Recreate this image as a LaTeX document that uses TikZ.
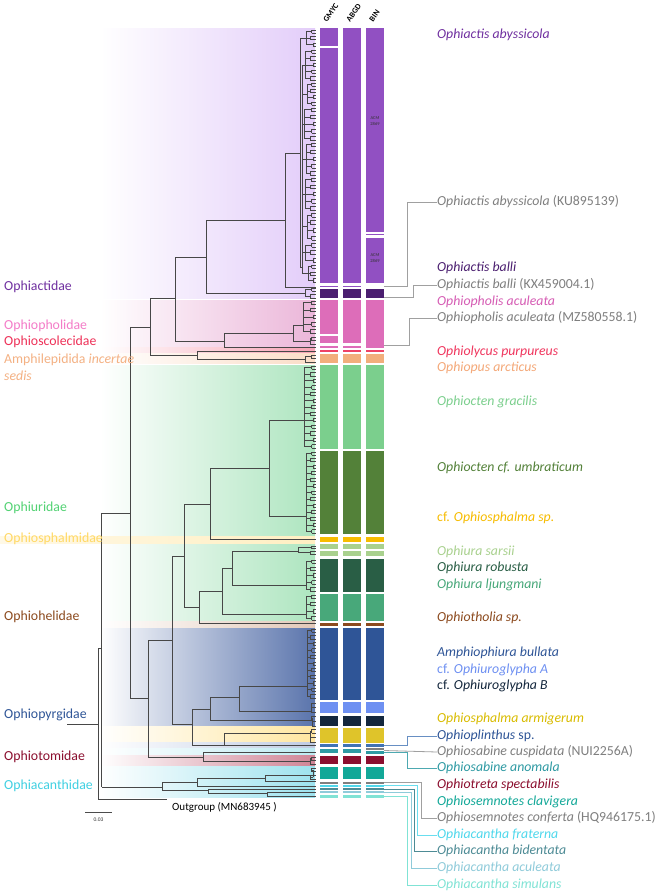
\documentclass[tikz,border=0pt]{standalone}
\usepackage{fontspec}
\setmainfont{Carlito}
\usetikzlibrary{calc}
% bar colours
\definecolor{purp}{HTML}{9150C2}
\definecolor{dpurp}{HTML}{4B1F70}
\definecolor{pinkb}{HTML}{DD6DB9}
\definecolor{redb}{HTML}{EE4266}
\definecolor{orangeb}{HTML}{F2AE7C}
\definecolor{lgreen}{HTML}{7BCF8D}
\definecolor{olive}{HTML}{538139}
\definecolor{gold}{HTML}{F7BC00}
\definecolor{pgreen}{HTML}{A9D18E}
\definecolor{dgreen}{HTML}{295E45}
\definecolor{mgreen}{HTML}{48A87A}
\definecolor{brownb}{HTML}{8C4A1E}
\definecolor{blueb}{HTML}{2F5597}
\definecolor{lblue}{HTML}{6E90F2}
\definecolor{navy}{HTML}{14273D}
\definecolor{yellowb}{HTML}{DFC42A}
\definecolor{sblue}{HTML}{4173B4}
\definecolor{tealb}{HTML}{2E9AA3}
\definecolor{crimson}{HTML}{8B0E2E}
\definecolor{tgreen}{HTML}{12A898}
\definecolor{grayb}{HTML}{7F7F7F}
\definecolor{cyanb}{HTML}{4FD8EC}
\definecolor{dteal}{HTML}{4D8B95}
\definecolor{lcyan}{HTML}{8FCBDA}
\definecolor{mint}{HTML}{80E3D5}
% label colours
\definecolor{labpurp}{HTML}{7030A0}
\definecolor{labpink}{HTML}{D65CB4}
\definecolor{labred}{HTML}{F0365E}
\definecolor{laborange}{HTML}{F4A878}
\definecolor{labyellow}{HTML}{D9BC00}
\definecolor{famPink}{HTML}{F47CC8}
\definecolor{famRed}{HTML}{EE3158}
\definecolor{famOrange}{HTML}{F4B183}
\definecolor{famGreen}{HTML}{52D273}
\definecolor{famYellow}{HTML}{FFD966}
\definecolor{famCyan}{HTML}{3FD0E2}
% background colours
\definecolor{bgPurp}{HTML}{E3CDF9}
\definecolor{bgPink}{HTML}{EBB6D9}
\definecolor{bgRed}{HTML}{F7A3B5}
\definecolor{bgOrange}{HTML}{FBDDC7}
\definecolor{bgGreen}{HTML}{ADE5BF}
\definecolor{bgYellow}{HTML}{FFEFC2}
\definecolor{bgBrown}{HTML}{E2C8B8}
\definecolor{bgBlue}{HTML}{5A74AC}
\definecolor{bgYellowB}{HTML}{FFE6A0}
\definecolor{bgBlueB}{HTML}{BFCBE3}
\definecolor{bgCyanB}{HTML}{BDEBF2}
\definecolor{bgCrimson}{HTML}{D08496}
\definecolor{bgCyan}{HTML}{9DE2EE}
\definecolor{treec}{HTML}{474747}
\definecolor{conG}{HTML}{A0A0A0}

\newcommand{\band}[3]{\shade[left color=white, right color=#1] (100,#2) rectangle (315,#3);}
\newcommand{\nd}[5]{\draw[tree] (#1,#2) -- (#1,#3) (#1,#2) -- (#4,#2) (#1,#3) -- (#5,#3);}
\newcommand{\comb}[4]{%
  \pgfmathsetmacro{\cbS}{(#3-#2)/(#4-1)}%
  \pgfmathtruncatemacro{\cbN}{#4/2}%
  \pgfmathtruncatemacro{\cbO}{mod(#4,2)}%
  \pgfmathsetmacro{\cbT}{#2+\cbS/2}%
  \pgfmathsetmacro{\cbB}{\cbO==1 ? #3 : #3-\cbS/2}%
  \draw[tree] (#1,\cbT) -- (#1,\cbB);
  \foreach \j in {1,...,\cbN}{%
    \pgfmathsetmacro{\cbA}{#2+(2*\j-2)*\cbS}%
    \pgfmathsetmacro{\cbY}{\cbA+\cbS}%
    \pgfmathsetmacro{\cbM}{\cbA+\cbS/2}%
    \pgfmathsetmacro{\cbX}{313-mod(\j,3)*1.5}%
    \draw[tree] (#1,\cbM) -- (\cbX,\cbM) (\cbX,\cbA) -- (\cbX,\cbY) (\cbX,\cbA) -- (316,\cbA) (\cbX,\cbY) -- (316,\cbY);
  }%
  \ifnum\cbO=1 \draw[tree] (#1,#3) -- (316,#3);\fi
}
\newcommand{\bcell}[4]{\fill[#1] (#2,#3) rectangle ({#2+18},#4);}
\newcommand{\brow}[3]{\bcell{#1}{320}{#2}{#3}\bcell{#1}{343}{#2}{#3}\bcell{#1}{366}{#2}{#3}}

\begin{document}
\begin{tikzpicture}[x=1pt,y=-1pt,
  tree/.style={draw=treec, line width=0.6pt},
  con/.style={line width=0.8pt},
  sp/.style={anchor=west, inner sep=0pt, font=\fontsize{13.8}{15}\selectfont\itshape, text height=9.5pt, text depth=3pt},
  fam/.style={anchor=west, inner sep=0pt, font=\fontsize{13.8}{15}\selectfont, text height=9.5pt, text depth=3pt},
  hdr/.style={rotate=55, anchor=west, inner sep=0pt, font=\bfseries\fontsize{8}{9}\selectfont},
  acm/.style={align=center, inner sep=0pt, font=\fontsize{4.5}{5.2}\selectfont, text=black!80}]
\useasboundingbox (0,0) rectangle (660,895);
\fill[white] (0,0) rectangle (660,895);

% background bands
\band{bgPurp}{28}{298}
\band{bgPink}{300}{346.5}
\band{bgRed}{347.5}{352.5}
\band{bgOrange}{353}{363.5}
\band{bgGreen}{365}{535.5}
\shade[left color=bgYellow!40, right color=bgYellow] (0,536) rectangle (315,543);
\band{bgGreen}{544}{621}
\band{bgBrown}{621.5}{627}
\band{bgBlue}{628}{725.5}
\band{bgYellowB}{726.5}{742}
\band{bgBlueB}{742.5}{747}
\band{bgCyanB}{748}{754.5}
\band{bgCrimson}{755.5}{765}
\band{bgCyan}{766}{797}

% tree backbone
\draw[tree] (67,724) -- (98,724);
\nd{98}{648}{799}{101.5}{167}
\nd{101.5}{513}{787}{130}{162}
\nd{130}{327}{698}{150}{148}
\nd{150}{298}{355}{175}{197}
\nd{175}{257}{341}{206}{224}
\nd{206}{220}{293}{285}{305}
\nd{285}{153}{287}{300}{316}
\nd{300}{38}{267}{306}{302}
\nd{224}{333}{347}{293}{316}
\nd{293}{325}{341}{303}{310}
\nd{197}{351}{359}{316}{305}
\nd{148}{640}{757}{172}{203}
\nd{172}{556}{724}{184}{192}
\nd{184}{504}{607}{210}{199}
\nd{210}{468}{539}{269}{316}
\nd{269}{420}{516}{304}{306}
\nd{199}{591}{623}{222}{316}
\nd{222}{568}{614}{232}{306}
\nd{232}{551}{585}{298}{306}
\nd{192}{709}{745}{210}{224}
\nd{210}{697}{720}{239}{312}
\nd{239}{686}{711}{307}{311}
\nd{224}{733}{745}{310}{316}
\nd{203}{752}{761}{316}{310}
\nd{162}{782}{790}{197}{208}
\nd{197}{778}{786}{265}{316}
\nd{265}{775}{781}{313}{316}
\nd{208}{789}{793}{316}{267}
\nd{267}{792}{796}{316}{316}

% Ophiactidae sub-clusters
\comb{306}{30}{46}{6}
\draw[tree] (302,65) -- (302,273.5);
\draw[tree] (302,65) -- (305,65) (302,94) -- (307,94) (302,124) -- (304,124) (302,159) -- (306,159)
  (302,194) -- (305,194) (302,226.5) -- (307,226.5) (302,252.5) -- (305,252.5) (302,273.5) -- (308,273.5);
\comb{305}{50}{80}{10}
\comb{307}{83}{105}{8}
\comb{304}{108}{140}{10}
\comb{306}{143}{175}{10}
\comb{305}{178}{210}{10}
\comb{307}{213}{240}{8}
\comb{305}{243}{262}{6}
\comb{308}{265}{282}{6}
% other clusters
\comb{305}{288}{298}{4}
\comb{303}{301}{333}{10}
\comb{310}{337}{344}{3}
\comb{305}{355}{362}{3}
\comb{304}{366}{448}{26}
\comb{306}{452}{533}{26}
\comb{298}{546}{554}{4}
\comb{306}{560}{591}{10}
\comb{306}{595}{620}{8}
\comb{307}{629}{698}{22}
\comb{311}{703}{712}{3}
\comb{312}{716}{726}{3}
\comb{310}{729}{742}{4}
\comb{310}{757}{764}{3}
\comb{313}{768}{779}{4}

% delimitation bars
\bcell{purp}{320}{28}{45.5}\bcell{purp}{320}{48}{283}
\bcell{purp}{343}{28}{283}
\bcell{purp}{366}{28}{232.3}\bcell{purp}{366}{233.8}{235.3}\bcell{purp}{366}{237.7}{283}
\bcell{purp}{320}{285.5}{287.3}\bcell{purp}{343}{285.5}{287.3}
\brow{dpurp}{288.5}{298}
\bcell{pinkb}{320}{300}{334}\bcell{pinkb}{320}{336}{343}
\bcell{pinkb}{343}{300}{343}
\bcell{pinkb}{366}{300}{347.5}
\bcell{pinkb}{320}{345.5}{347.5}\bcell{pinkb}{343}{345.5}{347.5}
\brow{redb}{349.5}{351.8}
\brow{orangeb}{354}{363}
\brow{lgreen}{365}{448.5}
\brow{olive}{451}{534}
\brow{gold}{536.5}{542}
\brow{pgreen}{544}{549}
\brow{pgreen}{551}{556}
\brow{dgreen}{558.5}{592}
\brow{mgreen}{594}{621}
\brow{brownb}{623}{626}
\brow{blueb}{628}{699.5}
\brow{lblue}{701.5}{713}
\brow{navy}{715.5}{726}
\brow{yellowb}{728}{743}
\brow{sblue}{744.3}{746.7}
\bcell{tealb}{320}{748.5}{753.3}\bcell{tealb}{343}{748.5}{753.3}
\bcell{grayb}{366}{748.2}{750}\bcell{tealb}{366}{751.3}{754}
\brow{crimson}{756}{764.3}
\brow{tgreen}{766.7}{779}
\brow{grayb}{781.7}{783.7}
\brow{cyanb}{784.7}{786.7}
\brow{dteal}{787.8}{790}
\brow{lcyan}{791.3}{793.3}
\brow{mint}{795}{797.5}

% headers
\node[hdr] (hG) at (325,21) {GMYC};
\node[hdr] (hA) at (348,21) {ABGD};
\node[hdr] (hB) at (371,21) {BIN};
\node[acm] (acm1) at (375,121) {ACM\\2869};
\node[acm] (acm2) at (375,258) {ACM\\2869};

% species labels
\node[sp, text=labpurp] (s1) at (437,35) {Ophiactis abyssicola};
\node[sp, text=grayb] (s2) at (437,202) {Ophiactis abyssicola \textup{(KU895139)}};
\node[sp, text=dpurp] (s3) at (437,268) {Ophiactis balli};
\node[sp, text=grayb] (s4) at (437,285) {Ophiactis balli \textup{(KX459004.1)}};
\node[sp, text=labpink] (s5) at (437,302) {Ophiopholis aculeata};
\node[sp, text=grayb] (s6) at (437,318) {Ophiopholis aculeata \textup{(MZ580558.1)}};
\node[sp, text=labred] (s7) at (437,352) {Ophiolycus purpureus};
\node[sp, text=laborange] (s8) at (437,368) {Ophiopus arcticus};
\node[sp, text=lgreen] (s9) at (437,402) {Ophiocten gracilis};
\node[sp, text=olive] (s10) at (437,468) {Ophiocten cf. umbraticum};
\node[sp, text=gold] (s11) at (437,518) {\textup{cf.} Ophiosphalma sp.};
\node[sp, text=pgreen] (s12) at (437,552) {Ophiura sarsii};
\node[sp, text=dgreen] (s13) at (437,568) {Ophiura robusta};
\node[sp, text=mgreen] (s14) at (437,585) {Ophiura ljungmani};
\node[sp, text=brownb] (s15) at (437,618) {Ophiotholia sp.};
\node[sp, text=blueb] (s16) at (437,653) {Amphiophiura bullata};
\node[sp, text=lblue] (s17) at (437,670) {\textup{cf.} Ophiuroglypha A};
\node[sp, text=navy] (s18) at (437,686) {\textup{cf.} Ophiuroglypha B};
\node[sp, text=labyellow] (s19) at (437,719) {Ophiosphalma armigerum};
\node[sp, text=blueb] (s20) at (437,736) {Ophioplinthus \textup{sp.}};
\node[sp, text=grayb] (s21) at (437,752) {Ophiosabine cuspidata \textup{(NUI2256A)}};
\node[sp, text=tealb] (s22) at (437,768) {Ophiosabine anomala};
\node[sp, text=crimson] (s23) at (437,785) {Ophiotreta spectabilis};
\node[sp, text=tgreen] (s24) at (437,802) {Ophiosemnotes clavigera};
\node[sp, text=grayb] (s25) at (437,818) {Ophiosemnotes conferta \textup{(HQ946175.1)}};
\node[sp, text=cyanb] (s26) at (437,835) {Ophiacantha fraterna};
\node[sp, text=dteal] (s27) at (437,851) {Ophiacantha bidentata};
\node[sp, text=lcyan] (s28) at (437,868) {Ophiacantha aculeata};
\node[sp, text=mint] (s29) at (437,885) {Ophiacantha simulans};

% connectors from bars to labels
\coordinate (c2) at (384,286.5);
\coordinate (c4) at (384,297);
\coordinate (c6) at (384,345.5);
\coordinate (c20) at (384,745.5);
\coordinate (c21) at (384,750.5);
\coordinate (c22) at (384,752.8);
\coordinate (c25) at (384,782.7);
\coordinate (c26) at (384,785.7);
\coordinate (c27) at (384,788.9);
\coordinate (c28) at (384,792.3);
\coordinate (c29) at (384,796.2);
\draw[con, draw=conG] (c2) -- ++(23,0) |- (s2.west);
\draw[con, draw=conG] (c4) -- ++(29,0) |- (s4.west);
\draw[con, draw=conG] (c6) -- ++(25,0) |- (s6.west);
\draw[con, draw=sblue!80] (c20) -- ++(23,0) |- (s20.west);
\draw[con, draw=conG] (c21) -- (s21.west);
\draw[con, draw=tealb!85] (c22) -- ++(23,0) |- (s22.west);
\draw[con, draw=conG] (c25) -- ++(37,0) |- (s25.west);
\draw[con, draw=cyanb!85] (c26) -- ++(33,0) |- (s26.west);
\draw[con, draw=dteal] (c27) -- ++(30,0) |- (s27.west);
\draw[con, draw=lcyan] (c28) -- ++(27,0) |- (s28.west);
\draw[con, draw=mint] (c29) -- ++(23,0) |- (s29.west);

% family labels
\node[fam, text=labpurp] (f1) at (4,287) {Ophiactidae};
\node[fam, text=famPink] (f2) at (4,326) {Ophiopholidae};
\node[fam, text=famRed] (f3) at (4,342) {Ophioscolecidae};
\node[fam, text=famOrange] (f4) at (4,360) {Amphilepidida \textit{incertae}};
\node[fam, text=famOrange] (f4b) at (4,377) {\textit{sedis}};
\node[fam, text=famGreen] (f5) at (4,508) {Ophiuridae};
\node[fam, text=famYellow] (f6) at (4,539) {Ophiosphalmidae};
\node[fam, text=brownb] (f7) at (4,617) {Ophiohelidae};
\node[fam, text=blueb] (f8) at (4,715) {Ophiopyrgidae};
\node[fam, text=crimson] (f9) at (4,757) {Ophiotomidae};
\node[fam, text=famCyan] (f10) at (4,786) {Ophiacanthidae};

% outgroup and scale
\node[anchor=west, inner sep=0pt, font=\fontsize{11}{13}\selectfont] (og) at (172,807) {Outgroup (MN683945 )};
\draw[line width=0.7pt, draw=black!70] (85,812) -- (112,812);
\node[inner sep=0pt, font=\fontsize{5.5}{6.5}\selectfont, text=black!80] (sc) at (98.5,820) {0.03};
\end{tikzpicture}
\end{document}
